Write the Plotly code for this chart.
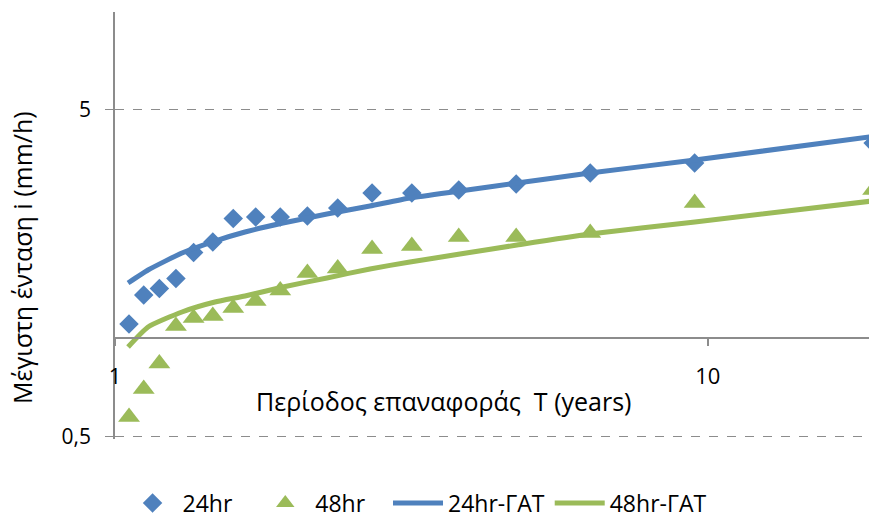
import plotly.graph_objects as go

# Return period T (years) of observed points
T_obs = [1.056, 1.118, 1.188, 1.267, 1.357, 1.462, 1.583, 1.727, 1.900,
         2.111, 2.375, 2.714, 3.167, 3.800, 4.750, 6.333, 9.500, 19.0]
i24_obs = [1.104, 1.354, 1.418, 1.521, 1.826, 1.967, 2.320, 2.344, 2.344,
           2.361, 2.497, 2.775, 2.775, 2.835, 2.956, 3.195, 3.428, 3.944]
i48_obs = [0.574, 0.699, 0.837, 1.089, 1.152, 1.169, 1.236, 1.298, 1.398,
           1.581, 1.633, 1.872, 1.913, 2.037, 2.037, 2.094, 2.587, 2.835]

# Fitted curves (ΓΑΤ)
T_fit = [1.052, 1.137, 1.297, 1.474, 1.657, 1.920, 2.278, 2.692, 3.144,
         3.818, 4.764, 6.324, 9.51, 18.95]
i24_fit = [1.474, 1.615, 1.820, 1.980, 2.110, 2.247, 2.394, 2.533, 2.680,
           2.815, 2.977, 3.195, 3.500, 4.129]
i48_fit = [0.940, 1.082, 1.202, 1.289, 1.345, 1.433, 1.527, 1.627, 1.709,
           1.807, 1.925, 2.080, 2.263, 2.624]

x_ticks = [1, 10]
y_ticks = [0.5, 5]
y_ticktext = ["0,5", "5"]

BLUE = "#4F81BD"
GREEN = "#9BBB59"
AXC = "#8C8C8C"
FONT = "Open Sans"
PAD = "\u00a0\u00a0\u00a0"

fig = go.Figure()
fig.add_trace(go.Scatter(x=T_obs, y=i24_obs, mode="markers", name="24hr" + PAD,
                         marker=dict(symbol="diamond", size=15, color=BLUE)))
fig.add_trace(go.Scatter(x=T_obs, y=i48_obs, mode="markers", name="48hr" + PAD,
                         marker=dict(symbol="triangle-up", size=19, color=GREEN)))
fig.add_trace(go.Scatter(x=T_fit, y=i24_fit, mode="lines", name="24hr-ΓΑΤ",
                         line=dict(color=BLUE, width=5, shape="spline", smoothing=0.5)))
fig.add_trace(go.Scatter(x=T_fit, y=i48_fit, mode="lines", name="48hr-ΓΑΤ",
                         line=dict(color=GREEN, width=5, shape="spline", smoothing=0.5)))

T_, B_ = 12, 79
PH = 518 - T_ - B_
ylo, yhi = -0.30805, 0.99616
xpos = (0 - ylo) / (yhi - ylo)

fig.update_layout(
    width=869, height=518,
    margin=dict(l=115, r=0, t=T_, b=B_, autoexpand=False),
    paper_bgcolor="white", plot_bgcolor="white",
    font=dict(family=FONT, size=22, color="#000000"),
    separators=",.",
    showlegend=True,
    legend=dict(orientation="h", x=0.01, xanchor="left", y=(439 - 503) / PH, yanchor="middle",
                font=dict(size=23), itemwidth=50),
    xaxis=dict(type="log", range=[0, 1.2718], tickvals=x_ticks,
               ticktext=[str(v) for v in x_ticks],
               showgrid=False, zeroline=False, showline=True, linecolor=AXC, linewidth=1.5,
               ticks="outside", ticklen=7, tickcolor=AXC, tickwidth=1.5,
               anchor="free", position=xpos, ticklabelstandoff=12,
               tickfont=dict(size=22)),
    yaxis=dict(type="log", range=[ylo, yhi], tickvals=y_ticks,
               ticktext=y_ticktext,
               showgrid=True, gridcolor=AXC, griddash="dash", gridwidth=1.2,
               zeroline=False, showline=True, linecolor=AXC, linewidth=1.5,
               ticks="outside", ticklen=8, tickcolor=AXC, tickwidth=1.2,
               ticklabelstandoff=10, tickfont=dict(size=21)),
    annotations=[
        dict(text="Περίοδος επαναφοράς  T (years)", xref="paper", yref="paper",
             x=(443 - 115) / 754, y=(439 - 401) / PH, xanchor="center", yanchor="middle",
             showarrow=False, font=dict(size=25)),
        dict(text="Μέγιστη ένταση i (mm/h)", xref="paper", yref="paper",
             x=(22 - 115) / 754, y=(439 - 258) / PH, xanchor="center", yanchor="middle",
             textangle=-90, showarrow=False, font=dict(size=25)),
    ],
)

fig.write_html("out.html", config={"displayModeBar": False},
               post_script="document.body.style.margin='0';document.body.style.overflow='hidden';")
